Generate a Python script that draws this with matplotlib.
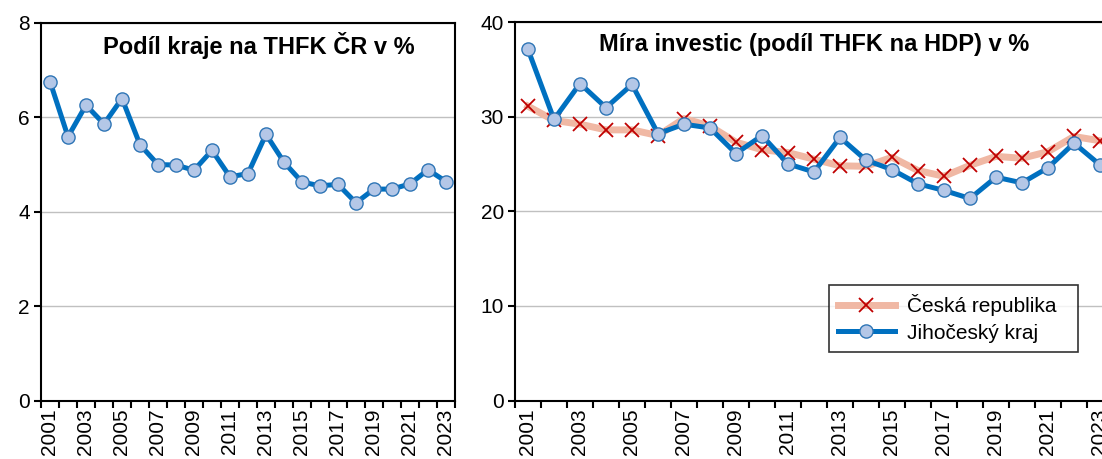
import numpy as np
import matplotlib
matplotlib.use("Agg")
from matplotlib import pyplot as plt

plt.rcParams["font.family"] = ["Liberation Sans", "DejaVu Sans"]

years = list(range(2001, 2024))
podil_kraje = [6.76, 5.59, 6.26, 5.86, 6.40, 5.42, 5.00, 4.99, 4.88, 5.30, 4.74, 4.81,
               5.64, 5.05, 4.63, 4.55, 4.58, 4.19, 4.48, 4.48, 4.59, 4.89, 4.64]
mira_cr = [31.1, 29.6, 29.2, 28.6, 28.6, 28.0, 29.8, 29.0, 27.3, 26.5, 26.2, 25.5,
           24.8, 24.75, 25.7, 24.3, 23.7, 24.85, 25.8, 25.6, 26.3, 27.9, 27.45]
mira_kraj = [37.1, 29.7, 33.5, 30.95, 33.4, 28.2, 29.2, 28.8, 26.1, 28.0, 25.0, 24.15,
             27.8, 25.4, 24.4, 22.9, 22.2, 21.35, 23.6, 23.0, 24.6, 27.2, 24.9]

W, H = 1102, 459
fig = plt.figure(figsize=(W / 100, H / 100), dpi=100)

blue = "#0070C0"
marker_fill = "#B4C7E7"
marker_edge = "#2E75B6"
peach = "#F0B8A4"
red = "#C00000"

def setup(ax, ymax, ystep):
    x = np.arange(len(years))
    ax.set_xlim(-0.5, len(years) - 0.5)
    ax.set_ylim(0, ymax)
    ax.set_yticks(np.arange(0, ymax + 1, ystep))
    ax.set_xticks(x)
    ax.set_xticklabels([str(y) if y % 2 == 1 else "" for y in years], rotation=90)
    ax.set_xticks(np.arange(-0.5, len(years), 1), minor=True)
    ax.tick_params(axis="x", which="major", length=0, pad=6, labelsize=15)
    ax.tick_params(axis="x", which="minor", length=5, width=1.5, direction="out")
    ax.tick_params(axis="y", length=5, width=1.5, labelsize=15, pad=3)
    ax.grid(axis="y", color="#C0C0C0", lw=1)
    ax.set_axisbelow(True)
    for s in ax.spines.values():
        s.set_linewidth(1.5)
    return x

# left chart
ax1 = fig.add_axes([41 / W, (H - 400.5) / H, 414 / W, 377.5 / H])
x = setup(ax1, 8, 2)
ax1.plot(x, podil_kraje, color=blue, lw=3.6, marker="o", ms=9.5,
         mfc=marker_fill, mec=marker_edge, mew=1)
ax1.text(0.525, 0.94, "Podíl kraje na THFK ČR v %", transform=ax1.transAxes,
         ha="center", va="center", fontsize=17, fontweight="bold")

# right chart (runs past the figure edge as in the original)
ax2 = fig.add_axes([515 / W, (H - 400.5) / H, 598 / W, 378.5 / H])
x = setup(ax2, 40, 10)
ax2.plot(x, mira_cr, color=peach, lw=5, marker="x", ms=10,
         mec=red, mew=1.3, label="Česká republika  ")
ax2.plot(x, mira_kraj, color=blue, lw=3.6, marker="o", ms=9.5,
         mfc=marker_fill, mec=marker_edge, mew=1, label="Jihočeský kraj")
ax2.text(0.5, 0.94, "Míra investic (podíl THFK na HDP) v %", transform=ax2.transAxes,
         ha="center", va="center", fontsize=17, fontweight="bold")
leg = ax2.legend(loc="upper left", bbox_to_anchor=((829 - 515) / 598, (400.5 - 285) / 378.5),
                 fontsize=15, frameon=True, fancybox=False, edgecolor="black",
                 handlelength=2.7, borderpad=0.45, labelspacing=0.35, handletextpad=0.6,
                 borderaxespad=0)
leg.get_frame().set_linewidth(1.2)

fig.savefig("out.png", dpi=100)
